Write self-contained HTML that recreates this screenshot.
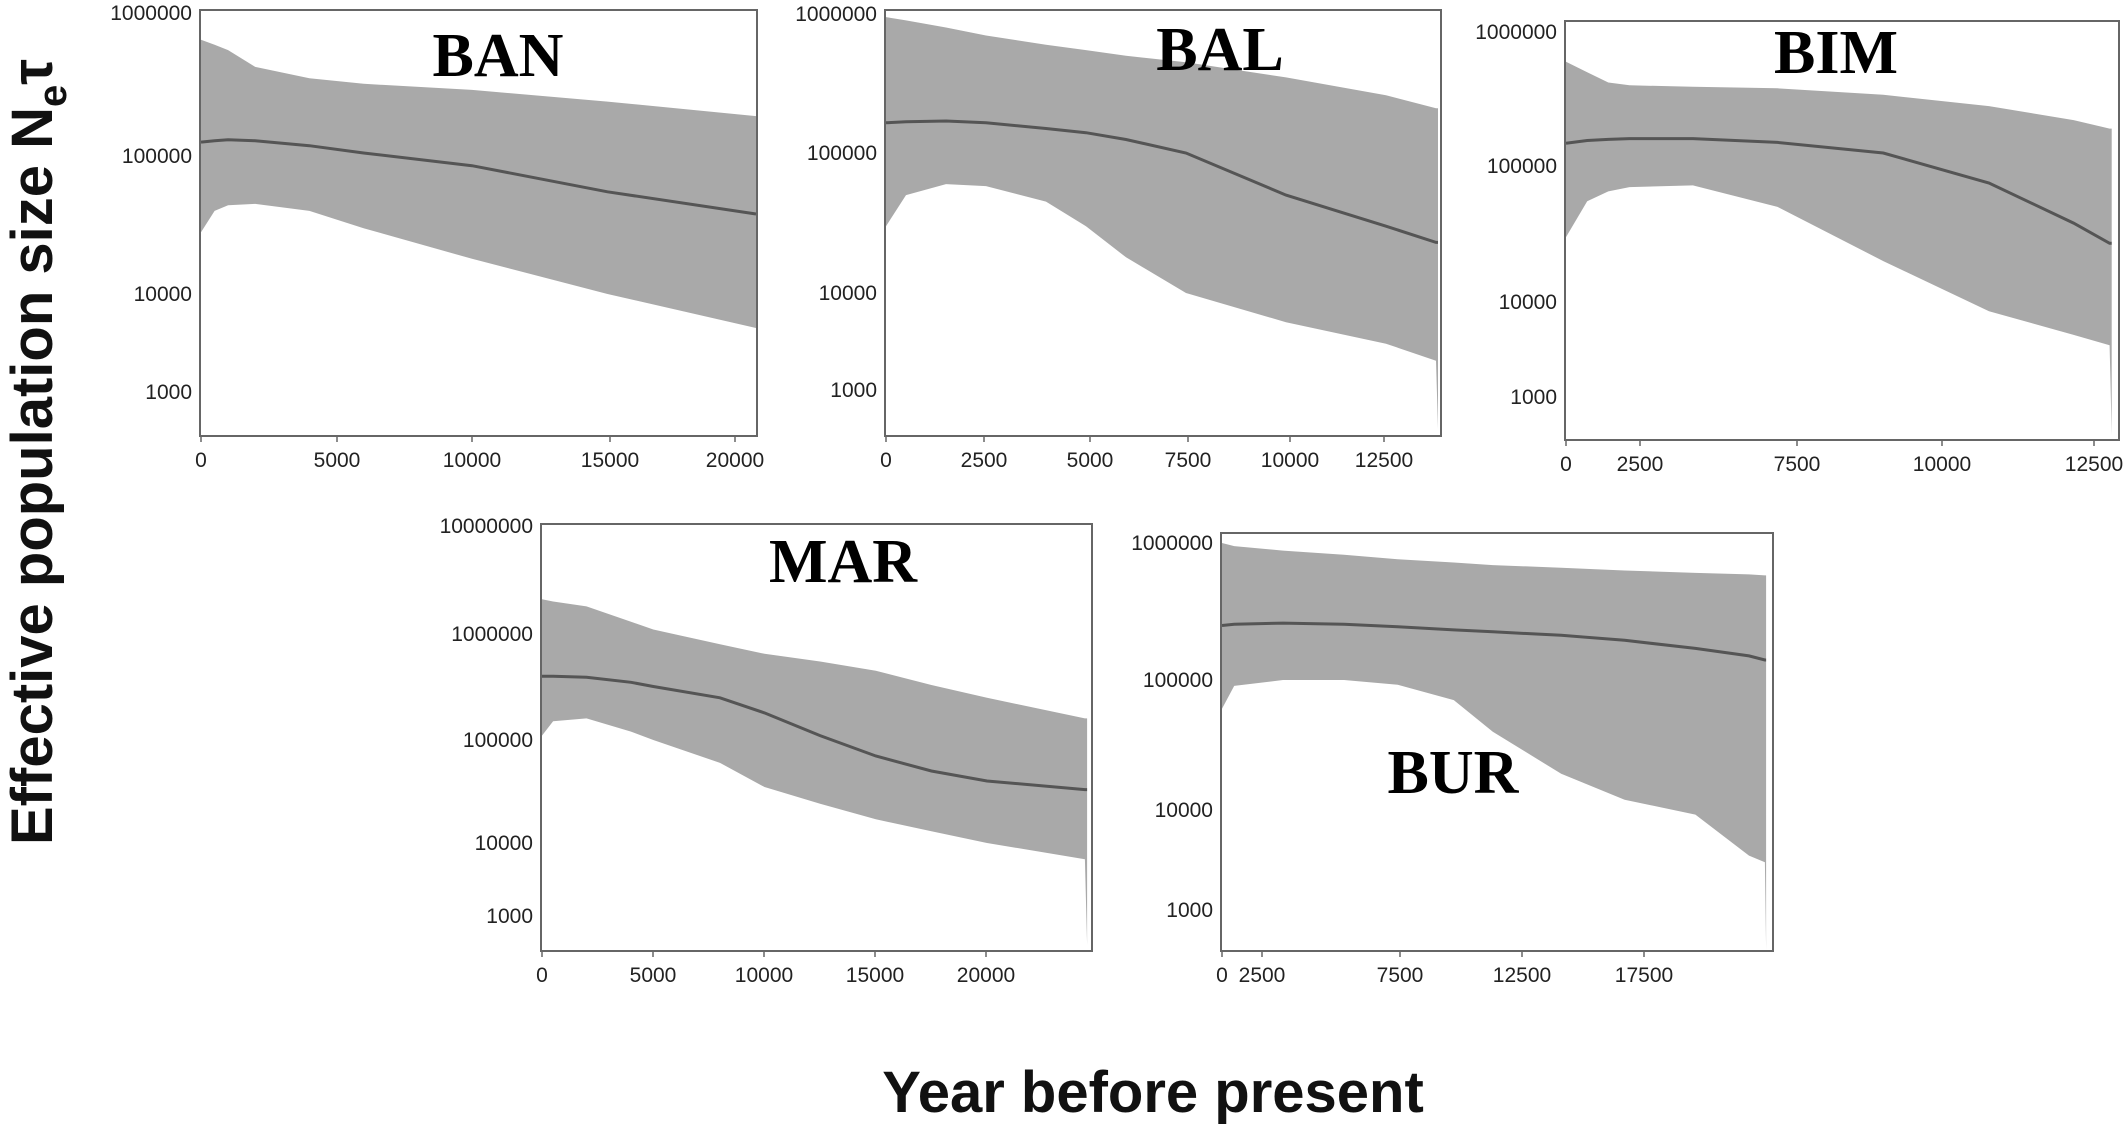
<!DOCTYPE html>
<html><head><meta charset="utf-8">
<style>
html,body{margin:0;padding:0;background:#fff;}
svg{display:block;}
.tick{font-family:"Liberation Sans",sans-serif;font-size:21px;fill:#222;}
.ttl{font-family:"Liberation Serif",serif;font-weight:bold;font-size:62px;fill:#000;}
.axt{font-family:"Liberation Sans",sans-serif;font-weight:bold;fill:#111;}
</style></head>
<body>
<svg id="fig" width="2128" height="1132" viewBox="0 0 2128 1132" xmlns="http://www.w3.org/2000/svg">
<text class="axt" font-size="58" transform="translate(52,845) rotate(-90)">Effective population size N<tspan font-size="40" dy="14">e</tspan><tspan dy="-14">τ</tspan></text>
<text class="axt" font-size="58" x="1153" y="1112" text-anchor="middle">Year before present</text>
</svg>
<script>
// ---- BAN ----
const banYears=[0,500,1000,2000,4000,6000,10000,15000,20500];
const banMedian=[125000,128000,130000,128000,118000,105000,85000,55000,38000];
const banUpper=[650000,600000,550000,420000,350000,320000,290000,240000,190000];
const banLower=[28000,40000,44000,45000,40000,30000,18000,10000,4500];
const banYTicks=[1000000,100000,10000,1000];
const banXTicks=["0","5000","10000","15000","20000"];
// ---- BAL ----
const balYears=[0,500,1500,2500,4000,5000,6000,7500,10000,12500,13750,13800];
const balMedian=[165000,168000,170000,165000,150000,140000,125000,100000,50000,30000,23000,23000];
const balUpper=[950000,900000,800000,700000,600000,550000,500000,450000,350000,260000,210000,210000];
const balLower=[30000,50000,60000,58000,45000,30000,18000,10000,5000,3000,2000,400];
const balYTicks=[1000000,100000,10000,1000];
const balXTicks=["0","2500","5000","7500","10000","12500"];
// ---- BIM ----
const bimYears=[0,500,1000,1500,3000,5000,7500,10000,12000,12850,12900];
const bimMedian=[148000,155000,158000,160000,160000,150000,125000,75000,38000,27000,27000];
const bimUpper=[600000,500000,420000,400000,390000,380000,340000,280000,220000,190000,190000];
const bimLower=[30000,55000,65000,70000,72000,50000,20000,8000,4500,3500,400];
const bimYTicks=[1000000,100000,10000,1000];
const bimXTicks=["0","2500","7500","10000","12500"];
// ---- MAR ----
const marYears=[0,500,2000,4000,5000,8000,10000,12500,15000,17500,20000,24400,24500];
const marMedian=[400000,400000,390000,350000,320000,250000,180000,110000,70000,50000,40000,33000,33000];
const marUpper=[2100000,2000000,1800000,1300000,1100000,800000,650000,550000,450000,330000,250000,160000,160000];
const marLower=[110000,150000,160000,120000,100000,60000,35000,24000,17000,13000,10000,6000,400];
const marYTicks=[10000000,1000000,100000,10000,1000];
const marXTicks=["0","5000","10000","15000","20000"];
// ---- BUR ----
const burYears=[0,500,2500,5000,7200,9500,11100,13900,16500,19400,21600,22250,22300];
const burMedian=[250000,255000,260000,255000,245000,232000,225000,212000,195000,170000,150000,140000,140000];
const burUpper=[1000000,950000,880000,820000,760000,720000,690000,660000,630000,605000,590000,580000,580000];
const burLower=[60000,90000,100000,100000,92000,70000,40000,19000,12000,9000,3500,3000,400];
const burYTicks=[1000000,100000,10000,1000];
const burXTicks=["0","2500","7500","12500","17500"];

const NS="http://www.w3.org/2000/svg";
const svg=document.getElementById('fig');
function mk(tag,attrs,parent){const e=document.createElementNS(NS,tag);for(const k in attrs)e.setAttribute(k,attrs[k]);(parent||svg).appendChild(e);return e;}

const panels=[
 {id:'ban',title:'BAN',tx:498,ty:76,box:[200,10,757,436],ylab:[13,156,294,392],x0:201,pxk:27.1,xlabPx:[201,337,472,610,735],years:banYears,med:banMedian,up:banUpper,lo:banLower,yt:banYTicks,xt:banXTicks},
 {id:'bal',title:'BAL',tx:1220,ty:70,box:[885,10,1441,436],ylab:[14,153,293,390],x0:886,pxk:40,xlabPx:[886,984,1090,1188,1290,1384],years:balYears,med:balMedian,up:balUpper,lo:balLower,yt:balYTicks,xt:balXTicks},
 {id:'bim',title:'BIM',tx:1836,ty:73,box:[1565,21,2119,440],ylab:[32,166,302,397],x0:1566,pxk:42.3,xlabPx:[1566,1640,1797,1942,2094],years:bimYears,med:bimMedian,up:bimUpper,lo:bimLower,yt:bimYTicks,xt:bimXTicks},
 {id:'mar',title:'MAR',tx:843,ty:582,box:[541,524,1092,951],ylab:[526,634,740,843,916],x0:542,pxk:22.25,xlabPx:[542,653,764,875,986],years:marYears,med:marMedian,up:marUpper,lo:marLower,yt:marYTicks,xt:marXTicks},
 {id:'bur',title:'BUR',tx:1453,ty:793,box:[1221,533,1773,951],ylab:[543,680,810,910],x0:1222,pxk:24.4,xlabPx:[1222,1262,1400,1522,1644],years:burYears,med:burMedian,up:burUpper,lo:burLower,yt:burYTicks,xt:burXTicks}
];

panels.forEach(p=>{
  const g=mk('g',{});
  
  
  const [L,T,R,B]=p.box;
  const lt=p.yt.map(v=>Math.log10(v));
  function yScale(v){
    const l=Math.log10(Math.max(v,1));
    for(let i=0;i<lt.length-1;i++){
      if(l<=lt[i]&&l>=lt[i+1]||i===lt.length-2){
        const a=lt[i],b=lt[i+1];
        return p.ylab[i]+(a-l)/(a-b)*(p.ylab[i+1]-p.ylab[i]);
      }
    }
    return p.ylab[0]+(lt[0]-l)*(p.ylab[1]-p.ylab[0]);
  }
  const clampY=y=>Math.max(T+1,Math.min(B-1,y));
  const xScale=t=>Math.min(R-1,p.x0+t/1000*p.pxk);
  const bg=mk('rect',{x:L,y:T,width:R-L,height:B-T,fill:'#fff'},g);
  
  
  let d='';
  p.years.forEach((t,i)=>{d+=(i?'L':'M')+xScale(t).toFixed(1)+','+clampY(yScale(p.up[i])).toFixed(1);});
  for(let i=p.years.length-1;i>=0;i--){d+='L'+xScale(p.years[i]).toFixed(1)+','+clampY(yScale(p.lo[i])).toFixed(1);}
  d+='Z';
  const band=mk('path',{d:d,fill:'#a9a9a9',stroke:'none'},g);
  
  
  let m='';
  p.years.forEach((t,i)=>{m+=(i?'L':'M')+xScale(t).toFixed(1)+','+clampY(yScale(p.med[i])).toFixed(1);});
  const line=mk('path',{d:m,fill:'none',stroke:'#555','stroke-width':3},g);
  
  
  const fr=mk('rect',{x:L,y:T,width:R-L,height:B-T,fill:'none',stroke:'#666','stroke-width':2},g);
  
  
  p.yt.forEach((v,i)=>{
    const tx=mk('text',{x:L-8,y:p.ylab[i]+7,'text-anchor':'end',class:'tick'},g);
    
    
    tx.textContent=String(v);
  });
  p.xt.forEach((s,i)=>{
    const tx=mk('text',{x:p.xlabPx[i],y:B+31,'text-anchor':'middle',class:'tick'},g);
    
    
    tx.textContent=s;
    const tk=mk('line',{x1:p.xlabPx[i],x2:p.xlabPx[i],y1:B,y2:B+6,stroke:'#666','stroke-width':1.5},g);
    
    
  });
  const tt=mk('text',{x:p.tx,y:p.ty,'text-anchor':'middle',class:'ttl'},g);
  
  
  tt.textContent=p.title;
});
</script>
</body></html>
